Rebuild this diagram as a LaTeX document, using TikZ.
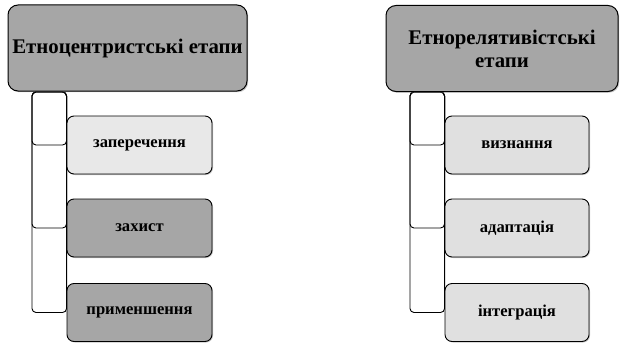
\documentclass[tikz,border=0pt]{standalone}
\usepackage{fontspec}
\setmainfont{Liberation Serif}
\usetikzlibrary{positioning,shadows,backgrounds}
\definecolor{hdgray}{HTML}{A6A6A6}
\definecolor{ltgray}{HTML}{E8E8E8}
\definecolor{lt2gray}{HTML}{E0E0E0}
\tikzset{
  headbox/.style={draw=black,line width=1pt,rounded corners=10pt,fill=hdgray,
    minimum height=86pt,align=center,inner sep=1pt,
    font=\fontsize{20.8}{23}\selectfont\bfseries,
    drop shadow={shadow xshift=1.2pt,shadow yshift=-1.2pt,opacity=0.45}},
  itembox/.style={draw=black,line width=0.9pt,rounded corners=7pt,
    minimum width=145pt,minimum height=58pt,
    font=\fontsize{16.6}{19}\selectfont\bfseries,
    drop shadow={shadow xshift=1pt,shadow yshift=-1pt,opacity=0.45}},
  link/.style={draw=black,line width=0.9pt,rounded corners=4pt},
}
\begin{document}
\begin{tikzpicture}[x=1pt,y=-1pt]
  \useasboundingbox (0,0) rectangle (620,345);
  % headers
  \node[headbox,minimum width=239pt] (ethc) at (127.5,48) {Етноцентристські етапи};
  \node[headbox,minimum width=232pt,text width=210pt] (ethr) at (502,48.5) {Етнорелятивістські\\етапи};
  % left column
  \node[itembox,fill=ltgray] (zap) at (139.5,145) {заперечення};
  \node[itembox,fill=hdgray] (zah) at (139.5,228) {захист};
  \node[itembox,fill=hdgray] (prym) at (139.5,312.5) {применшення};
  % right column
  \node[itembox,minimum width=144pt,fill=lt2gray] (vyzn) at (517,145) {визнання};
  \node[itembox,minimum width=144pt,fill=lt2gray] (adap) at (517,228) {адаптація};
  \node[itembox,minimum width=144pt,fill=lt2gray] (intg) at (517,312.5) {інтеграція};
  % connectors
  \coordinate (lt) at (32,92);
  \coordinate (rt) at (410,92);
  \begin{scope}[on background layer]
    \foreach \c in {zap,zah,prym}{\draw[link] (lt) rectangle (\c.west);}
    \foreach \c in {vyzn,adap,intg}{\draw[link] (rt) rectangle (\c.west);}
  \end{scope}
\end{tikzpicture}
\end{document}
